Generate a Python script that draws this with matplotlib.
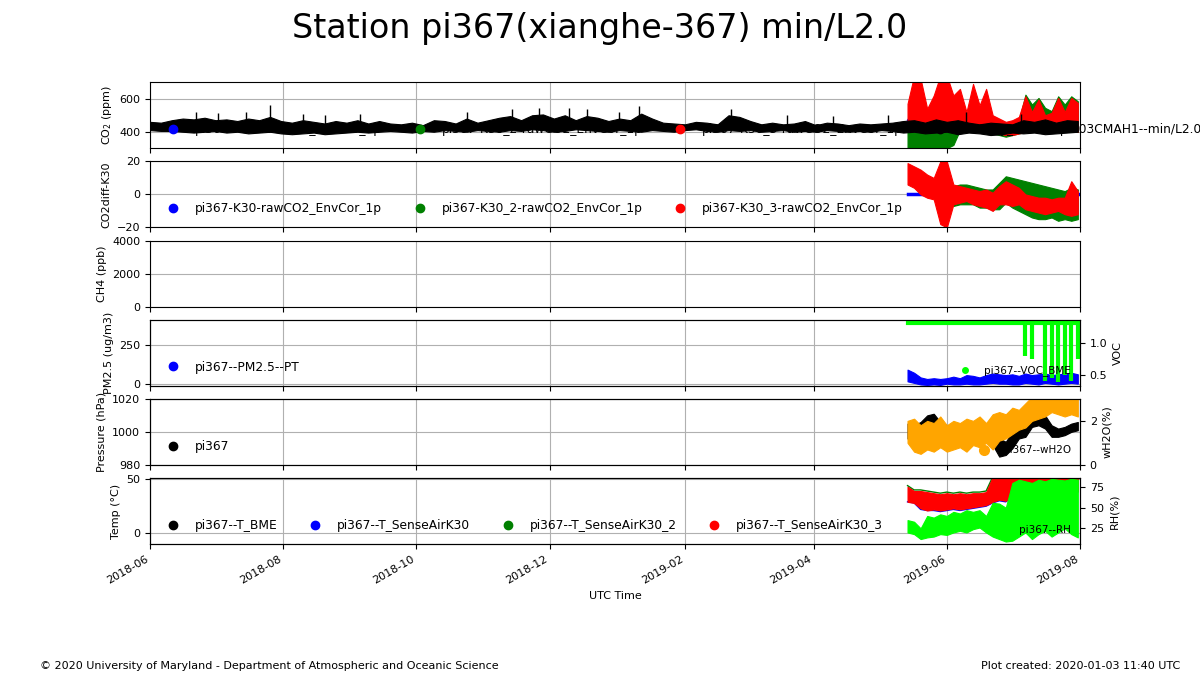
"""
Station overview plot: CO2, CO2 diff, CH4, PM2.5/VOC, pressure/wH2O, temperature/RH
"""

import numpy as np
import pandas as pd
import matplotlib
matplotlib.use('Agg')
import matplotlib.pyplot as plt
import matplotlib.dates as mdates
from matplotlib.lines import Line2D

nan = np.nan

title = 'Station pi367(xianghe-367) min/L2.0'
footer_left = '\u00a9 2020 University of Maryland - Department of Atmospheric and Oceanic Science'
footer_right = 'Plot created: 2020-01-03 11:40 UTC'

# long reference CO2 record, every 5 days from 2018-06-01 (band low / core top)
ref_dates = pd.date_range('2018-06-01', periods=86, freq='5D')
co2_ref_hi = [460, 455, 470, 480, 475, 485, 470, 475, 465, 480,
              470, 490, 465, 455, 470, 460, 450, 465, 455, 470,
              450, 465, 450, 445, 455, 440, 470, 465, 450, 480,
              455, 470, 485, 495, 470, 500, 505, 480, 500, 470,
              495, 485, 465, 480, 470, 510, 480, 455, 450, 445,
              460, 455, 445, 500, 490, 465, 445, 455, 445, 450,
              465, 440, 455, 450, 440, 450, 445, 450, 455, 465,
              470, 455, 475, 460, 470, 455, 445, 455, 450, 445,
              470, 460, 475, 455, 470, 465]
co2_ref_lo = [410, 405, 405, 400, 395, 400, 405, 395, 400, 390,
              395, 400, 390, 385, 390, 395, 385, 390, 395, 400,
              395, 400, 405, 400, 395, 405, 400, 410, 405, 400,
              410, 405, 400, 410, 405, 415, 410, 400, 405, 415,
              410, 405, 400, 410, 405, 400, 410, 405, 400, 410,
              415, 405, 400, 410, 405, 410, 400, 405, 410, 400,
              405, 400, 410, 405, 400, 405, 400, 410, 405, 395,
              400, 390, 395, 400, 385, 395, 390, 380, 385, 395,
              390, 395, 385, 390, 395, 400]
# isolated spikes on top of the reference record
spike_dates = pd.to_datetime(['2018-06-22', '2018-07-02', '2018-07-15', '2018-07-26',
                              '2018-08-10', '2018-08-20', '2018-09-05', '2018-10-24',
                              '2018-11-14', '2018-11-26', '2018-12-10', '2018-12-18',
                              '2019-01-02', '2019-01-11', '2019-02-22', '2019-03-20',
                              '2019-04-10', '2019-05-05', '2019-06-10', '2019-07-05'])
spike_vals = [520, 515, 520, 565, 510, 500, 505, 517, 537, 547,
              547, 537, 517, 557, 537, 500, 495, 500, 520, 510]

# low-cost sensor period, every 3 days from 2019-05-14
sen_dates = pd.date_range('2019-05-14', periods=27, freq='3D')

co2_k30 = [470, 520, 520, 480, 500, 540, 540, 500, 500, 480, 520, 470, 500, 450,
           430, 420, 420, 440, 500, 470, 490, 470, 460, 500, 470, 500, 480]
co2_k30_2_hi = [450, 440, 450, 430, 440, 450, 440, 430, 480, 470, 500, 460, 480, 450,
                460, 450, 460, 470, 625, 565, 605, 545, 525, 615, 565, 615, 585]
co2_k30_2_lo = [290, 290, 290, 300, 290, 290, 300, 320, 410, 410, 400, 400, 400, 390,
                380, 370, 380, 390, 400, 400, 400, 400, 400, 400, 400, 400, 400]
co2_k30_3_hi = [570, 740, 720, 540, 620, 740, 740, 620, 660, 520, 690, 560, 660, 500,
                480, 460, 470, 490, 615, 520, 595, 500, 515, 605, 520, 605, 575]
co2_k30_3_lo = [420, 430, 430, 420, 430, 420, 430, 420, 420, 420, 410, 410, 410, 400,
                390, 380, 380, 390, 400, 410, 400, 410, 400, 410, 400, 410, 400]

diff_k30 = [0, 0, 0, 0, 0, 0, 0, 0, 0, 0, 0, 0, 0, 0,
            0, 0, 0, 0, 0, 0, 0, 0, 0, 0, 0, 0, 0]
diff_k30_2_hi = [nan, nan, nan, nan, nan, nan, 4, 5, 6, 6, 5, 4, 3, 3,
                 7, 11, 10, 9, 8, 7, 6, 5, 4, 3, 2, 4, 3]
diff_k30_2_lo = [nan, nan, nan, nan, nan, nan, -6, -7, -6, -6, -6, -8, -8, -9,
                 -9, -5, -8, -10, -12, -14, -15, -15, -14, -16, -15, -16, -15]
diff_k30_3_hi = [19, 17, 15, 12, 10, 20, 20, 6, 5, 4, 3, 2, 3, 1,
                 5, 8, 6, 4, 0, -1, -2, -2, -3, -2, -2, 8, 2]
diff_k30_3_lo = [6, 4, 0, -2, -3, -18, -20, -6, -5, -4, -6, -7, -8, -10,
                 -6, -6, -7, -6, -9, -10, -11, -12, -11, -10, -12, -13, -12]

pm25_hi = [90, 70, 40, 30, 35, 30, 35, 45, 35, 55, 50, 40, 55, 65,
           60, 55, 60, 50, 65, 55, 60, 65, 55, 60, 65, 70, 60]
pm25_lo = [15, 5, -5, -8, -5, -8, 0, -5, -5, 0, -5, -5, 0, 5,
           0, 0, -5, -5, 5, 0, -5, 5, 0, -5, 0, 5, 0]
voc_hi = [1.31, 1.31, 1.31, 1.31, 1.31, 1.31, 1.31, 1.31, 1.31, 1.31, 1.31, 1.31, 1.31, 1.31,
          1.31, 1.31, 1.31, 1.31, 1.31, 1.31, 1.31, 1.31, 1.31, 1.31, 1.31, 1.31, 1.31]
voc_lo = [1.31, 1.31, 1.31, 1.31, 1.31, 1.31, 1.31, 1.31, 1.31, 1.31, 1.31, 1.31, 1.31, 1.31,
          1.31, 1.31, 1.31, 1.31, 0.8, 0.75, 1.31, 0.4, 0.45, 0.38, 0.5, 0.4, 0.75]

pres_hi = [1005, 1004, 1006, 1010, 1011, 1006, 1004, 1003, 1004, 1003, 1004, 1004, 1003, 1000,
           996, 994, 1000, 1006, 1005, 1009, 1012, 1010, 1004, 1002, 1003, 1005, 1006]
pres_lo = [996, 995, 997, 1001, 1002, 997, 996, 997, 997, 996, 997, 996, 995, 992,
           985, 986, 990, 996, 997, 1003, 1004, 1002, 997, 997, 998, 1000, 1001]
wh2o_hi = [2.0, 2.1, 1.8, 2.0, 1.9, 2.2, 1.8, 2.0, 1.9, 2.1, 2.0, 2.2, 1.9, 2.3,
           2.4, 2.3, 2.6, 2.5, 2.8, 3.1, 3.2, 3.3, 3.2, 3.3, 3.2, 3.3, 3.2]
wh2o_lo = [1.0, 0.6, 0.5, 0.7, 0.6, 0.8, 0.6, 0.7, 0.8, 0.6, 0.9, 0.8, 1.0, 0.7,
           1.1, 1.2, 1.4, 1.6, 1.7, 2.0, 2.1, 2.2, 2.4, 2.3, 2.2, 2.3, 2.2]

t_k30 = [29, 28, 22, 21, 21, 20, 21, 22, 21, 22, 23, 24, 25, 28,
         30, 29, 33, 35, 32, 35, 36, 34, 36, 37, 35, 36, 38]
t_k30_2 = [44, 40, 40, 39, 38, 37, 38, 37, 38, 37, 38, 38, 39, 52,
           52, 52, 52, 52, 52, 52, 52, 52, 52, 52, 52, 52, 52]
t_k30_3_hi = [43, 39, 39, 38, 37, 36, 37, 36, 37, 36, 37, 37, 38, 52,
              52, 52, 52, 52, 52, 52, 52, 52, 52, 52, 52, 52, 52]
t_k30_3_lo = [29, 28, 23, 21, 22, 21, 22, 23, 22, 23, 24, 25, 26, 29,
              31, 30, 34, 36, 33, 36, 37, 35, 37, 38, 36, 37, 39]
rh_hi = [35, 33, 25, 40, 38, 42, 40, 45, 43, 47, 45, 47, 40, 56,
         55, 50, 80, 84, 82, 80, 84, 82, 85, 84, 83, 85, 84]
rh_lo = [20, 18, 12, 14, 15, 18, 17, 20, 22, 20, 24, 26, 20, 15,
         12, 9, 10, 15, 20, 12, 18, 22, 15, 20, 25, 18, 14]

co2_labels = ['pi367-K30-rawCO2_EnvCor_1p', 'pi367-K30_2-rawCO2_EnvCor_1p',
              'pi367-K30_3-rawCO2_EnvCor_1p', 'CO2dry_Picarro-pi003CMAH1--min/L2.0']
temp_labels = ['pi367--T_BME', 'pi367--T_SenseAirK30', 'pi367--T_SenseAirK30_2',
               'pi367--T_SenseAirK30_3']

LIME = '#00ff00'


def band(ax, x, lo, hi, color, z=2):
    ax.fill_between(x, np.array(lo, float), np.array(hi, float), color=color,
                    lw=0.8, edgecolor=color, zorder=z)


def left_legend(ax, labels, colors):
    handles = [Line2D([], [], ls='none', marker='o', ms=6, color=c) for c in colors]
    leg = ax.legend(handles, labels, ncol=len(labels), loc='center left',
                    bbox_to_anchor=(0, 0.28), frameon=False, fontsize=8.8,
                    columnspacing=2.05)
    leg.set_zorder(5)
    return leg


def right_legend(ax, label, color, ms=4):
    h = [Line2D([], [], ls='none', marker='o', ms=ms, color=color)]
    return ax.legend(h, [label], loc='lower right', frameon=False, fontsize=7.5)


fig, axes = plt.subplots(6, 1, figsize=(12, 6.8), dpi=100, sharex=True)
fig.subplots_adjust(left=0.125, right=0.9, top=0.879, bottom=0.2, hspace=0.2)

# CO2
ax = axes[0]
ax.plot(sen_dates, co2_k30, color='b', lw=1, zorder=2)
band(ax, sen_dates, co2_k30_2_lo, co2_k30_2_hi, 'g')
band(ax, sen_dates, co2_k30_3_lo, co2_k30_3_hi, 'r')
band(ax, ref_dates, co2_ref_lo, co2_ref_hi, 'k', z=3)
ax.vlines(spike_dates, 440, spike_vals, color='k', lw=1.0, zorder=3)
ax.set_ylim(300, 700)
ax.set_yticks([400, 600])
ax.set_ylabel('CO$_2$ (ppm)')
left_legend(ax, co2_labels, ['b', 'g', 'r', 'k'])

# CO2 diff
ax = axes[1]
ax.plot(sen_dates, diff_k30, color='b', lw=2.5, zorder=2)
band(ax, sen_dates, diff_k30_2_lo, diff_k30_2_hi, 'g')
band(ax, sen_dates, diff_k30_3_lo, diff_k30_3_hi, 'r')
ax.set_ylim(-20, 20)
ax.set_yticks([-20, 0, 20])
ax.set_ylabel('CO2diff-K30')
left_legend(ax, co2_labels[:3], ['b', 'g', 'r'])

# CH4 (no data)
ax = axes[2]
ax.set_ylim(0, 4000)
ax.set_yticks([0, 2000, 4000])
ax.set_ylabel('CH4 (ppb)')

# PM2.5 + VOC
ax = axes[3]
band(ax, sen_dates, pm25_lo, pm25_hi, 'b')
ax.set_ylim(-13, 410)
ax.set_yticks([0, 250])
ax.set_ylabel('PM2.5 (ug/m3)')
left_legend(ax, ['pi367--PM2.5--PT'], ['b'])
tw = ax.twinx()
tw.plot(sen_dates, voc_hi, color=LIME, lw=3)
tw.vlines(sen_dates, voc_lo, voc_hi, color=LIME, lw=3)
tw.set_ylim(0.33, 1.36)
tw.set_yticks([0.5, 1.0])
tw.set_ylabel('VOC')
right_legend(tw, 'pi367--VOC_BME', LIME, ms=4)

# Pressure + wH2O
ax = axes[4]
band(ax, sen_dates, pres_lo, pres_hi, 'k')
ax.set_ylim(980, 1020)
ax.set_yticks([980, 1000, 1020])
ax.set_ylabel('Pressure (hPa)')
left_legend(ax, ['pi367'], ['k'])
tw = ax.twinx()
band(tw, sen_dates, wh2o_lo, wh2o_hi, 'orange')
tw.set_ylim(0, 3)
tw.set_yticks([0, 2])
tw.set_ylabel('wH2O(%)')
right_legend(tw, 'pi367--wH2O', 'orange', ms=7)

# Temperature + RH
ax = axes[5]
ax.plot([], [], color='k')
ax.plot(sen_dates, t_k30, color='b', lw=1, zorder=2)
ax.plot(sen_dates, t_k30_2, color='g', lw=1, zorder=2)
band(ax, sen_dates, t_k30_3_lo, t_k30_3_hi, 'r')
ax.set_ylim(-10, 51)
ax.set_yticks([0, 50])
ax.set_ylabel('Temp (\u00b0C)')
left_legend(ax, temp_labels, ['k', 'b', 'g', 'r'])
tw = ax.twinx()
band(tw, sen_dates, rh_lo, rh_hi, LIME)
tw.set_ylim(6, 86)
tw.set_yticks([25, 50, 75])
tw.set_ylabel('RH(%)')
right_legend(tw, 'pi367--RH', LIME, ms=6)

for a in fig.axes:
    a.tick_params(labelsize=8)
    a.yaxis.label.set_size(8)
for a in axes:
    a.grid(True, color='#b0b0b0', lw=0.8)
    a.set_axisbelow(True)

axes[-1].set_xlim(pd.Timestamp('2018-06-01'), pd.Timestamp('2019-08-01'))
axes[-1].xaxis.set_major_locator(mdates.MonthLocator(bymonth=[2, 4, 6, 8, 10, 12]))
axes[-1].xaxis.set_major_formatter(mdates.DateFormatter('%Y-%m'))
plt.setp(axes[-1].get_xticklabels(), rotation=30, ha='right')
axes[-1].set_xlabel('UTC Time', fontsize=8)

fig.suptitle(title, fontsize=24, y=0.982)
fig.text(40 / 1200, 1 - 666 / 680, footer_left, fontsize=8, va='center')
fig.text(1180 / 1200, 1 - 666 / 680, footer_right, fontsize=8, va='center', ha='right')

plt.savefig('out.png', dpi=100)
plt.close()
